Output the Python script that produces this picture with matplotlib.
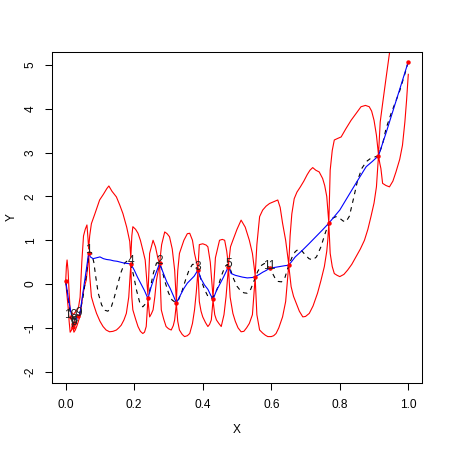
import matplotlib
matplotlib.use("Agg")
import matplotlib.pyplot as plt

plt.rcParams['font.family'] = ['Liberation Sans', 'DejaVu Sans']

# upper bound (red)
up_x = [0.000, 0.002, 0.004, 0.007, 0.010, 0.013, 0.018, 0.022, 0.027, 0.032, 0.037, 0.042,
        0.047, 0.052, 0.057, 0.062, 0.065, 0.067, 0.070, 0.075, 0.085, 0.099, 0.110, 0.120,
        0.126, 0.135, 0.148, 0.158, 0.167, 0.178, 0.187, 0.190, 0.193, 0.196, 0.204, 0.211,
        0.218, 0.225, 0.232, 0.240, 0.245, 0.255, 0.262, 0.269, 0.274, 0.280, 0.289, 0.296,
        0.303, 0.311, 0.318, 0.323, 0.327, 0.332, 0.345, 0.355, 0.362, 0.370, 0.376, 0.386,
        0.390, 0.400, 0.410, 0.415, 0.422, 0.430, 0.437, 0.449, 0.457, 0.464, 0.470, 0.475,
        0.481, 0.488, 0.500, 0.512, 0.524, 0.536, 0.545, 0.553, 0.558, 0.566, 0.575, 0.585,
        0.595, 0.607, 0.619, 0.626, 0.633, 0.642, 0.651, 0.655, 0.660, 0.667, 0.675, 0.685,
        0.695, 0.705, 0.713, 0.721, 0.730, 0.740, 0.750, 0.756, 0.762, 0.768, 0.772, 0.778,
        0.784, 0.795, 0.804, 0.818, 0.833, 0.848, 0.862, 0.875, 0.886, 0.893, 0.900, 0.907,
        0.913, 0.918, 0.925, 0.935, 0.945, 0.955]
up_y = [0.07, 0.40, 0.55, 0.30, -0.20, -0.60, -0.65, -0.70, -0.65, -0.60, -0.55, -0.30,
        0.50, 1.10, 1.25, 1.35, 1.05, 0.80, 1.10, 1.38, 1.60, 1.92, 2.05, 2.18,
        2.24, 2.12, 1.99, 1.80, 1.61, 1.30, 0.97, 0.60, 1.10, 1.31, 1.25, 1.16,
        1.00, 0.78, 0.55, -0.25, 0.70, 1.00, 0.85, 0.59, 0.47, 0.90, 1.19, 1.15,
        1.08, 0.80, 0.32, -0.40, 0.30, 0.70, 1.00, 1.15, 1.16, 1.00, 0.70, 0.35,
        0.90, 0.92, 0.89, 0.85, 0.50, -0.30, 0.60, 1.00, 1.02, 1.00, 0.75, 0.42,
        0.85, 1.00, 1.25, 1.46, 1.30, 1.00, 0.70, 0.20, 0.90, 1.54, 1.69, 1.78,
        1.84, 1.88, 1.92, 1.75, 1.39, 1.00, 0.45, 1.10, 1.60, 1.95, 2.10, 2.22,
        2.35, 2.50, 2.60, 2.66, 2.60, 2.56, 2.41, 2.25, 2.00, 1.40, 2.60, 3.05,
        3.29, 3.33, 3.36, 3.55, 3.74, 3.90, 4.05, 4.08, 4.05, 3.95, 3.74, 3.40,
        2.95, 3.70, 4.12, 4.70, 5.27, 5.80]

# lower bound (red)
lo_x = [0.000, 0.003, 0.007, 0.010, 0.013, 0.017, 0.020, 0.024, 0.028, 0.033, 0.037, 0.041,
        0.045, 0.050, 0.055, 0.060, 0.064, 0.067, 0.070, 0.075, 0.082, 0.090, 0.100, 0.109,
        0.118, 0.128, 0.138, 0.148, 0.155, 0.162, 0.170, 0.177, 0.184, 0.190, 0.193, 0.196,
        0.204, 0.211, 0.218, 0.225, 0.230, 0.235, 0.240, 0.245, 0.250, 0.255, 0.260, 0.265,
        0.274, 0.279, 0.286, 0.293, 0.300, 0.308, 0.314, 0.318, 0.323, 0.327, 0.332, 0.340,
        0.347, 0.355, 0.362, 0.370, 0.376, 0.381, 0.386, 0.390, 0.395, 0.400, 0.408, 0.415,
        0.420, 0.425, 0.430, 0.435, 0.440, 0.447, 0.454, 0.462, 0.468, 0.475, 0.480, 0.488,
        0.495, 0.503, 0.512, 0.520, 0.528, 0.536, 0.545, 0.553, 0.558, 0.566, 0.575, 0.583,
        0.590, 0.600, 0.607, 0.614, 0.622, 0.633, 0.642, 0.651, 0.658, 0.665, 0.673, 0.682,
        0.692, 0.700, 0.711, 0.722, 0.735, 0.745, 0.755, 0.762, 0.765, 0.768, 0.772, 0.778,
        0.784, 0.792, 0.800, 0.812, 0.823, 0.835, 0.847, 0.860, 0.872, 0.882, 0.891, 0.900,
        0.907, 0.913, 0.917, 0.920, 0.925, 0.935, 0.945, 0.955, 0.964, 0.975, 0.983, 0.990,
        0.995, 1.000]
lo_y = [0.07, -0.20, -0.52, -0.85, -1.10, -1.05, -0.95, -1.10, -1.05, -0.95, -0.85, -0.75,
        -0.55, -0.25, -0.05, 0.09, 0.40, 0.70, 0.20, -0.29, -0.48, -0.67, -0.85, -0.97,
        -1.05, -1.09, -1.08, -1.05, -1.00, -0.94, -0.82, -0.67, -0.30, 0.44, -0.30, -0.59,
        -0.80, -0.97, -1.08, -1.13, -1.10, -0.97, -0.35, -0.75, -0.68, -0.59, -0.30, 0.09,
        0.47, -0.59, -0.80, -0.97, -1.02, -1.05, -0.95, -0.82, -0.45, -0.85, -1.05, -1.15,
        -1.20, -1.18, -1.13, -0.90, -0.59, -0.20, 0.30, -0.40, -0.62, -0.75, -0.88, -0.97,
        -0.92, -0.82, -0.37, -0.70, -0.82, -0.90, -0.97, -0.70, -0.29, 0.38, -0.30, -0.67,
        -0.85, -1.00, -1.09, -1.08, -1.00, -0.90, -0.70, 0.15, -0.70, -1.05, -1.12, -1.17,
        -1.20, -1.20, -1.18, -1.13, -1.00, -0.75, -0.40, 0.43, -0.06, -0.28, -0.44, -0.62,
        -0.75, -0.74, -0.67, -0.50, -0.21, 0.08, 0.40, 0.75, 1.00, 1.39, 0.70, 0.40,
        0.24, 0.20, 0.17, 0.22, 0.32, 0.45, 0.62, 0.80, 1.00, 1.25, 1.54, 1.85,
        2.22, 2.93, 2.75, 2.64, 2.30, 2.25, 2.22, 2.35, 2.56, 2.85, 3.17, 3.70,
        4.20, 4.79]

# true function (dashed)
true_x = [0.000, 0.006, 0.012, 0.018, 0.025, 0.032, 0.040, 0.050, 0.060, 0.067, 0.075, 0.082,
          0.088, 0.095, 0.105, 0.115, 0.123, 0.132, 0.142, 0.152, 0.162, 0.172, 0.180, 0.190,
          0.198, 0.207, 0.216, 0.225, 0.233, 0.240, 0.248, 0.256, 0.265, 0.272, 0.280, 0.290,
          0.300, 0.310, 0.320, 0.330, 0.340, 0.350, 0.360, 0.370, 0.378, 0.386, 0.395, 0.405,
          0.415, 0.425, 0.435, 0.445, 0.455, 0.465, 0.472, 0.480, 0.490, 0.500, 0.510, 0.520,
          0.530, 0.540, 0.550, 0.560, 0.570, 0.580, 0.590, 0.600, 0.610, 0.620, 0.630, 0.640,
          0.651, 0.660, 0.670, 0.680, 0.690, 0.700, 0.710, 0.721, 0.732, 0.745, 0.757, 0.768,
          0.778, 0.789, 0.800, 0.810, 0.818, 0.828, 0.840, 0.852, 0.865, 0.878, 0.890, 0.913,
          0.925, 0.935, 0.950, 0.974, 0.990, 1.000]
true_y = [0.07, -0.25, -0.60, -0.82, -0.90, -0.85, -0.70, -0.32, 0.20, 0.65, 0.72, 0.50,
          0.15, -0.21, -0.48, -0.60, -0.62, -0.55, -0.30, 0.00, 0.28, 0.48, 0.53, 0.46,
          0.20, -0.15, -0.42, -0.52, -0.45, -0.33, -0.05, 0.25, 0.48, 0.50, 0.35, 0.05,
          -0.20, -0.36, -0.42, -0.35, -0.15, 0.10, 0.32, 0.45, 0.45, 0.33, 0.10, -0.12,
          -0.28, -0.33, -0.25, -0.05, 0.20, 0.40, 0.45, 0.35, 0.12, -0.05, -0.15, -0.20,
          -0.21, -0.12, 0.08, 0.28, 0.42, 0.47, 0.42, 0.30, 0.15, 0.06, 0.05, 0.15,
          0.43, 0.60, 0.74, 0.80, 0.75, 0.66, 0.58, 0.55, 0.62, 0.85, 1.15, 1.39,
          1.50, 1.54, 1.50, 1.44, 1.42, 1.55, 1.95, 2.37, 2.65, 2.80, 2.87, 2.93,
          3.20, 3.55, 3.90, 4.39, 4.80, 5.08]

# predicted mean (blue)
pred_x = [0.000, 0.008, 0.017, 0.026, 0.033, 0.041, 0.050, 0.060, 0.067, 0.072, 0.080, 0.090,
          0.100, 0.110, 0.120, 0.130, 0.140, 0.150, 0.160, 0.170, 0.180, 0.190, 0.200, 0.210,
          0.220, 0.230, 0.240, 0.250, 0.260, 0.274, 0.285, 0.295, 0.305, 0.315, 0.323, 0.335,
          0.345, 0.355, 0.365, 0.375, 0.386, 0.395, 0.405, 0.415, 0.423, 0.430, 0.440, 0.450,
          0.460, 0.468, 0.475, 0.483, 0.495, 0.505, 0.515, 0.530, 0.545, 0.553, 0.565, 0.575,
          0.585, 0.595, 0.610, 0.625, 0.640, 0.651, 0.670, 0.692, 0.710, 0.730, 0.750, 0.768,
          0.785, 0.800, 0.820, 0.847, 0.877, 0.895, 0.913, 0.935, 0.955, 0.975, 1.000]
pred_y = [0.07, -0.35, -0.71, -0.81, -0.78, -0.71, -0.21, 0.32, 0.71, 0.62, 0.58, 0.60,
          0.62, 0.58, 0.56, 0.55, 0.53, 0.52, 0.50, 0.48, 0.47, 0.46, 0.32, 0.15,
          0.00, -0.15, -0.33, -0.05, 0.18, 0.47, 0.25, 0.05, -0.10, -0.28, -0.43, -0.25,
          -0.10, 0.02, 0.10, 0.18, 0.32, 0.12, -0.02, -0.12, -0.25, -0.35, -0.15, 0.00,
          0.15, 0.28, 0.40, 0.24, 0.20, 0.18, 0.16, 0.14, 0.15, 0.17, 0.22, 0.27,
          0.31, 0.36, 0.38, 0.40, 0.42, 0.43, 0.62, 0.78, 0.92, 1.08, 1.24, 1.39,
          1.55, 1.69, 1.95, 2.30, 2.68, 2.80, 2.93, 3.45, 3.95, 4.45, 5.08]

# design points
design_x = [0.000, 0.240, 0.323, 0.430, 0.553, 0.651, 0.768, 0.913, 1.000]
design_y = [0.07, -0.33, -0.43, -0.35, 0.17, 0.43, 1.39, 2.93, 5.08]

# added points with their order numbers
added_x = [0.067, 0.274, 0.386, 0.190, 0.475, 0.022, 0.020, 0.025, 0.037, 0.015, 0.595]
added_y = [0.71, 0.47, 0.32, 0.46, 0.40, -0.92, -0.98, -0.88, -0.72, -0.76, 0.36]
added_lab = ["1", "2", "3", "4", "5", "6", "7", "8", "9", "10", "11"]

fig = plt.figure(figsize=(4.5, 4.5), dpi=100)
ax = fig.add_axes([52 / 450, 1 - 383 / 450, 370 / 450, 331 / 450])

ax.plot(up_x, up_y, color='red', lw=0.8)
ax.plot(lo_x, lo_y, color='red', lw=0.8)
ax.plot(true_x, true_y, color='black', lw=0.8, linestyle=(0, (4, 4)))
ax.plot(pred_x, pred_y, color='blue', lw=0.8)
ax.plot(design_x + added_x, design_y + added_y, 'o', color='red', ms=3.2, mew=0)
for xx, yy, lab in zip(added_x, added_y, added_lab):
    ax.annotate(lab, (xx, yy), xytext=(0, 2), textcoords='offset points',
                ha='center', va='center', fontsize=8.6, color='#222222')

ax.set_xlim(-0.04, 1.04)
ax.set_ylim(-2.26, 5.3)
ax.set_xticks([0, 0.2, 0.4, 0.6, 0.8, 1.0])
ax.set_xticklabels(["0.0", "0.2", "0.4", "0.6", "0.8", "1.0"])
ax.set_yticks([-2, -1, 0, 1, 2, 3, 4, 5])
ax.set_yticklabels(["-2", "-1", "0", "1", "2", "3", "4", "5"],
                   rotation=90, va='center')
ax.tick_params(direction='out', length=5, width=0.75, labelsize=8.6)
ax.tick_params(axis='x', pad=6.5)
ax.tick_params(axis='y', pad=6)
for s in ax.spines.values():
    s.set_linewidth(0.75)

fig.text(237 / 450, 1 - 430 / 450, "X", ha='center', va='center', fontsize=8.6)
fig.text(12 / 450, 1 - 217 / 450, "Y", ha='center', va='center', fontsize=8.6, rotation=90)

fig.savefig("out.png", dpi=100)
